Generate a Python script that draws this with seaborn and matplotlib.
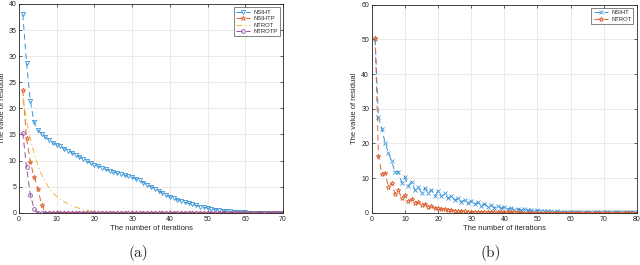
import numpy as np
import pandas as pd
import seaborn as sns
from matplotlib import pyplot as plt

# (a) residual vs iteration, four methods
iters_a = list(range(1, 71))
nsiht_a = [38.0, 28.7, 21.5, 17.3, 15.8, 15.0, 14.5, 14.0, 13.4, 13.0,
           12.7, 12.3, 11.9, 11.5, 11.1, 10.7, 10.3, 9.9, 9.5, 9.2,
           8.9, 8.6, 8.3, 8.0, 7.8, 7.6, 7.4, 7.2, 7.0, 6.8,
           6.5, 6.2, 5.8, 5.4, 5.0, 4.6, 4.2, 3.8, 3.4, 3.1,
           2.8, 2.5, 2.25, 2.0, 1.8, 1.6, 1.4, 1.2, 1.05, 0.9,
           0.75, 0.62, 0.5, 0.4, 0.32, 0.25, 0.18, 0.13, 0.09, 0.06,
           0.04, 0.03, 0.02, 0.01, 0.01, 0.01, 0.01, 0.01, 0.01, 0.01]
nsihtp_a = [23.5, 14.3, 9.8, 6.8, 4.6, 1.5] + [0.0] * 64
ntrot_a = [22.0, 17.6, 14.2, 11.4, 9.1, 7.3, 5.9, 4.7, 3.8, 3.1,
           2.6, 2.1, 1.7, 1.4, 1.1, 0.85, 0.65, 0.5, 0.35, 0.25,
           0.15, 0.1, 0.05] + [0.0] * 47
ntrotp_a = [15.3, 8.7, 3.5, 0.8] + [0.0] * 66

# (b) residual vs iteration, two methods
iters_b = list(range(1, 81))
nsiht_b = [50.0, 27.5, 24.3, 20.2, 17.3, 14.9, 11.7, 11.9, 8.7, 10.2,
           7.8, 9.0, 6.6, 7.4, 5.8, 7.1, 5.6, 6.6, 4.9, 6.3,
           4.7, 5.6, 4.2, 4.9, 3.7, 4.2, 3.2, 3.7, 2.7, 3.4,
           2.4, 3.0, 2.1, 2.6, 1.8, 2.2, 1.5, 1.9, 1.3, 1.6,
           1.1, 1.4, 0.9, 1.2, 0.8, 1.0, 0.7, 0.8, 0.6, 0.7,
           0.5, 0.6, 0.4, 0.5, 0.35, 0.4, 0.3, 0.35, 0.25, 0.3,
           0.22, 0.25, 0.2, 0.22, 0.18, 0.2, 0.16, 0.18, 0.15, 0.16,
           0.14, 0.15, 0.13, 0.14, 0.12, 0.13, 0.12, 0.12, 0.11, 0.11]
ntrot_b = [50.5, 16.5, 11.2, 11.4, 7.5, 8.5, 5.5, 6.5, 4.2, 5.0,
           3.3, 4.0, 2.8, 3.2, 2.2, 2.5, 1.6, 2.0, 1.3, 1.5,
           1.0, 1.1, 0.8, 0.8, 0.6, 0.6, 0.45, 0.45, 0.35, 0.35,
           0.28, 0.28, 0.22, 0.22, 0.18, 0.18, 0.15, 0.15, 0.12, 0.12,
           0.1, 0.1, 0.09, 0.09, 0.08, 0.08, 0.07, 0.07, 0.06, 0.06] + [0.05] * 30

blue = "#3A94D6"
orange = "#DE6535"
yellow = "#F0B840"
purple = "#9650A6"

sns.set_style("ticks")
plt.rcParams["font.family"] = ["Liberation Sans", "DejaVu Sans"]
plt.rcParams["axes.edgecolor"] = "#262626"
plt.rcParams["xtick.color"] = "#262626"
plt.rcParams["ytick.color"] = "#262626"

fig = plt.figure(figsize=(6.4, 2.65), dpi=100)
ax1 = fig.add_axes([0.0297, 0.197, 0.4125, 0.788])
ax2 = fig.add_axes([0.581, 0.197, 0.414, 0.785])

df_a = pd.DataFrame({"iter": iters_a, "NSIHT": nsiht_a, "NSIHTP": nsihtp_a,
                     "NTROT": ntrot_a, "NTROTP": ntrotp_a})
df_b = pd.DataFrame({"iter": iters_b, "NSIHT": nsiht_b, "NTROT": ntrot_b})

lw = 0.7
dash = (0, (6, 4))
sns.lineplot(data=df_a, x="iter", y="NSIHT", ax=ax1, color=blue, lw=lw, ls=dash,
             marker="v", ms=3, mfc="none", mec=blue, mew=0.6, label="NSIHT")
sns.lineplot(data=df_a, x="iter", y="NSIHTP", ax=ax1, color=orange, lw=lw, ls=dash,
             marker="*", ms=3.5, mfc="none", mec=orange, mew=0.6, label="NSIHTP")
sns.lineplot(data=df_a, x="iter", y="NTROT", ax=ax1, color=yellow, lw=lw, ls=(0, (6, 3, 1, 3)),
             label="NTROT")
sns.lineplot(data=df_a, x="iter", y="NTROTP", ax=ax1, color=purple, lw=lw, ls=dash,
             marker="h", ms=3, mfc="none", mec=purple, mew=0.6, label="NTROTP")

sns.lineplot(data=df_b, x="iter", y="NSIHT", ax=ax2, color=blue, lw=lw, ls=dash,
             marker="x", ms=2.5, mec=blue, mew=0.6, label="NSIHT")
sns.lineplot(data=df_b, x="iter", y="NTROT", ax=ax2, color=orange, lw=lw, ls=dash,
             marker="*", ms=3.5, mfc="none", mec=orange, mew=0.6, label="NTROT")

for ax, xmax, ymax, ystep in [(ax1, 70, 40, 5), (ax2, 80, 60, 10)]:
    ax.set_xlim(0, xmax)
    ax.set_ylim(0, ymax)
    ax.set_xticks(np.arange(0, xmax + 1, 10))
    ax.set_yticks(np.arange(0, ymax + 1, ystep))
    ax.grid(True, color="#e6e6e6", lw=0.6)
    ax.tick_params(direction="in", length=2.5, width=0.5, labelsize=5, top=True, right=True, pad=2)
    for s in ax.spines.values():
        s.set_linewidth(0.6)
        s.set_visible(True)
    ax.set_xlabel("The number of iterations", fontsize=5.5, labelpad=1.5)
    ax.set_ylabel("The value of residual", fontsize=5.5, labelpad=2)
    leg = ax.legend(loc="upper right", fontsize=4.2, frameon=True, fancybox=False,
                    handlelength=2.4, handletextpad=0.6, borderpad=0.35,
                    labelspacing=0.25, borderaxespad=0.6)
    leg.get_frame().set_edgecolor("#262626")
    leg.get_frame().set_linewidth(0.5)

fig.text(0.216, 0.045, "(a)", fontsize=11, family="cmr10", ha="center", va="center")
fig.text(0.767, 0.045, "(b)", fontsize=11, family="cmr10", ha="center", va="center")

fig.savefig("out.png", dpi=100)
